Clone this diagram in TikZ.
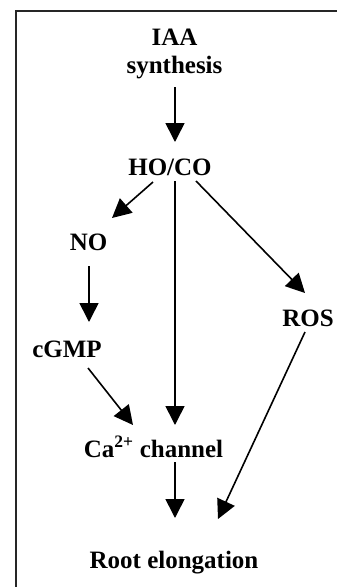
\documentclass[tikz,border=0pt]{standalone}
\usepackage{fontspec}
\setmainfont{Liberation Serif}
\usetikzlibrary{arrows.meta,calc}
\tikzset{
  lbl/.style={anchor=base, inner sep=0pt, font=\bfseries\fontsize{25}{30}\selectfont},
  arr/.style={line width=1.6pt, -{Triangle[width=19pt,length=19pt]}},
  frame/.style={line width=2.2pt, draw=black!85}
}
\begin{document}
\begin{tikzpicture}[x=1pt,y=-1pt]
\useasboundingbox (0,0) rectangle (337,587);
\draw[frame] (16,600) -- (16,11) -- (345,11);
\node[lbl] (iaa) at (174.5,45) {IAA};
\node[lbl] (syn) at (174.5,73) {synthesis};
\node[lbl] (hoco) at (170,175) {HO/CO};
\node[lbl] (no) at (88.5,250) {NO};
\node[lbl] (cgmp) at (67,357) {cGMP};
\node[lbl] (ros) at (308,326) {ROS};
\node[lbl] (ca) at (153.5,457) {Ca\textsuperscript{2+} channel};
\node[lbl] (root) at (174,568) {Root elongation};
\draw[arr] ($(syn.base)+(0.5,14)$) -- ($(hoco.base)+(5,-33)$);
\draw[arr] ($(hoco.base)+(-17,7)$) -- ($(no.base)+(23.5,-32)$);
\draw[arr] ($(hoco.base)+(5,6)$) -- ($(ca.base)+(21.5,-32)$);
\draw[arr] ($(hoco.base)+(26,6)$) -- ($(ros.base)+(-3,-33)$);
\draw[arr] ($(no.base)+(0.5,16)$) -- ($(cgmp.base)+(22,-35)$);
\draw[arr] ($(cgmp.base)+(21,11)$) -- ($(ca.base)+(-20.5,-32)$);
\draw[arr] ($(ca.base)+(21.5,5)$) -- ($(root.base)+(1,-50)$);
\draw[arr] ($(ros.base)+(-3,6)$) -- ($(root.base)+(44,-49)$);
\end{tikzpicture}
\end{document}
